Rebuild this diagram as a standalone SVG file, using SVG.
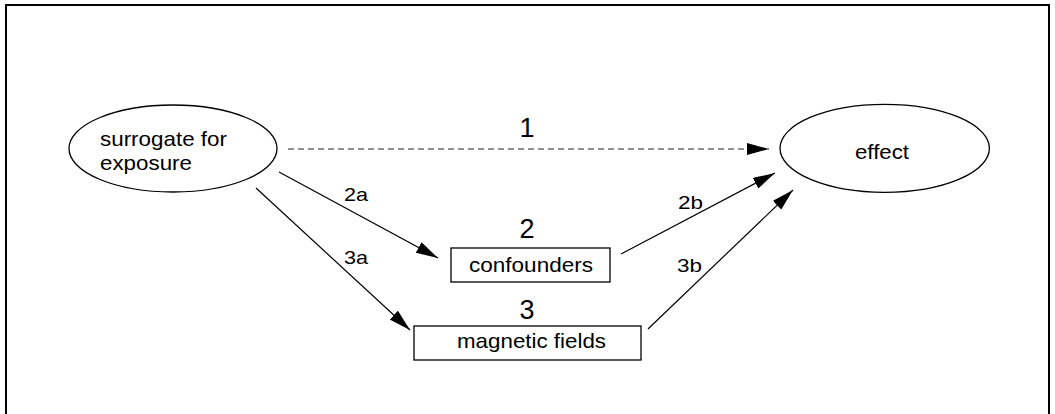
<svg xmlns="http://www.w3.org/2000/svg" width="1055" height="414" viewBox="0 0 1055 414">
  <style>
    .node { fill: #fff; stroke: #000; stroke-width: 1.3; }
    .t { font-family: "Liberation Sans", Arial, sans-serif; font-size: 21px; fill: #000; }
    .num { font-family: "Liberation Sans", Arial, sans-serif; font-size: 27px; fill: #000; text-anchor: middle; }
    .lbl { font-family: "Liberation Sans", Arial, sans-serif; font-size: 19px; fill: #000; }
    .edge { stroke: #000; stroke-width: 1.2; fill: none; marker-end: url(#ah); }
    .dash { stroke: #222; stroke-width: 1.2; fill: none; stroke-dasharray: 6 4; marker-end: url(#ah); }
  </style>
  <defs>
    <marker id="ah" markerUnits="userSpaceOnUse" markerWidth="23" markerHeight="13" refX="22" refY="6" orient="auto">
      <path d="M0,0 L22,6 L0,12 z" fill="#000"/>
    </marker>
  </defs>
  <rect x="6" y="5" width="1043" height="420" fill="#fff" stroke="#000" stroke-width="2"/>

  <g id="connectors">
    <line class="dash" x1="288" y1="149" x2="769" y2="149"/>
    <line class="edge" x1="279" y1="172" x2="438" y2="258"/>
    <line class="edge" x1="256" y1="188" x2="410" y2="330"/>
    <line class="edge" x1="621" y1="254" x2="775" y2="173"/>
    <line class="edge" x1="648" y1="329" x2="793" y2="190"/>
    <text class="num" x="527" y="137">1</text>
    <text class="lbl" x="344" y="201" textLength="24" lengthAdjust="spacingAndGlyphs">2a</text>
    <text class="lbl" x="344" y="264" textLength="24" lengthAdjust="spacingAndGlyphs">3a</text>
    <text class="lbl" x="678" y="209" textLength="25" lengthAdjust="spacingAndGlyphs">2b</text>
    <text class="lbl" x="677" y="272" textLength="25" lengthAdjust="spacingAndGlyphs">3b</text>
  </g>

  <g id="surrogate">
    <ellipse class="node" cx="173" cy="148.5" rx="104" ry="43.5"/>
    <text class="t" x="100" y="146" textLength="127" lengthAdjust="spacingAndGlyphs">surrogate for</text>
    <text class="t" x="100" y="170" textLength="92" lengthAdjust="spacingAndGlyphs">exposure</text>
  </g>

  <g id="effect">
    <ellipse class="node" cx="884.7" cy="148.3" rx="104.7" ry="44"/>
    <text class="t" x="855" y="159" textLength="54" lengthAdjust="spacingAndGlyphs">effect</text>
  </g>

  <g id="confounders">
    <text class="num" x="527" y="238">2</text>
    <rect class="node" x="451" y="248" width="159" height="34"/>
    <text class="t" x="469" y="272" textLength="124" lengthAdjust="spacingAndGlyphs">confounders</text>
  </g>

  <g id="magnetic">
    <text class="num" x="527" y="319">3</text>
    <rect class="node" x="414" y="326" width="227" height="34"/>
    <text class="t" x="457" y="348" textLength="149" lengthAdjust="spacingAndGlyphs">magnetic fields</text>
  </g>
</svg>
